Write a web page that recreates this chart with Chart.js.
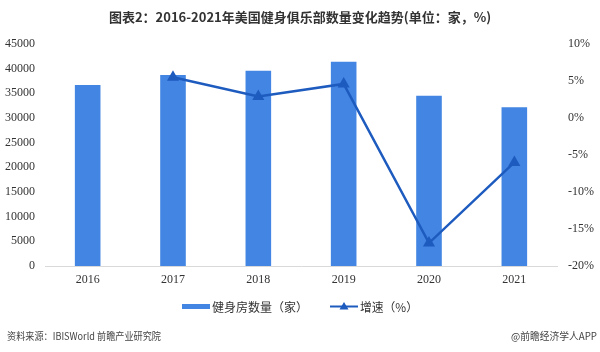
<!DOCTYPE html>
<html><head><meta charset="utf-8">
<script src="https://cdn.jsdelivr.net/npm/chart.js@4"></script>
<style>html,body{margin:0;padding:0;background:#fff}#wrap{width:600px;height:352px;position:relative}</style>
</head><body><div id="wrap"><canvas id="c" width="600" height="352"></canvas></div>
<script>
const title = "图表2：2016-2021年美国健身俱乐部数量变化趋势(单位：家，%)";
const categories = ["2016","2017","2018","2019","2020","2021"];
const gymCounts = [36700, 38700, 39600, 41400, 34500, 32200];
const growthRates = [null, 5.5, 2.9, 4.6, -16.9, -6.0];
const barLabel = "健身房数量（家）";
const lineLabel = "增速（%）";
const sourceText = "资料来源：IBISWorld 前瞻产业研究院";
const brandText = "@前瞻经济学人APP";

const BAR = "#4285e2", LINE = "#1e5bbf";
const serif = "'Liberation Serif','DejaVu Serif',serif";
const sans = "'Noto Sans CJK SC','Noto Sans',sans-serif";

const decor = {
  id: "decor",
  afterDraw(chart) {
    const ctx = chart.ctx;
    ctx.save();
    ctx.fillStyle = "#333";
    ctx.font = "bold 13px " + sans;
    ctx.textAlign = "center"; ctx.textBaseline = "middle";
    ctx.fillText(title, 300, 17, 386);
    // legend
    ctx.font = "12px " + sans;
    ctx.textAlign = "left";
    ctx.fillStyle = BAR;
    ctx.fillRect(182, 304, 28, 5);
    ctx.fillStyle = "#333";
    ctx.fillText(barLabel, 212, 307, 98);
    ctx.strokeStyle = LINE; ctx.lineWidth = 2;
    ctx.beginPath(); ctx.moveTo(330, 306.5); ctx.lineTo(358, 306.5); ctx.stroke();
    ctx.fillStyle = LINE;
    ctx.beginPath(); ctx.moveTo(344, 302); ctx.lineTo(348.5, 309.5); ctx.lineTo(339.5, 309.5); ctx.closePath(); ctx.fill();
    ctx.fillStyle = "#333";
    ctx.fillText(lineLabel, 360, 307, 58);
    // footer
    ctx.font = "10px " + sans;
    ctx.fillStyle = "#444";
    ctx.fillText(sourceText, 7, 336, 154);
    ctx.textAlign = "right";
    ctx.fillText(brandText, 597, 336, 86);
    ctx.restore();
  }
};

new Chart(document.getElementById("c"), {
  data: {
    labels: categories,
    datasets: [
      { type: "line", label: lineLabel, data: growthRates, yAxisID: "y1",
        borderColor: LINE, backgroundColor: LINE, borderWidth: 2.5,
        pointStyle: "triangle", pointRadius: 4.5, pointHoverRadius: 4.5,
        tension: 0, spanGaps: false, order: 0 },
      { type: "bar", label: barLabel, data: gymCounts, yAxisID: "y",
        backgroundColor: BAR, categoryPercentage: 1, barPercentage: 0.3, order: 1 }
    ]
  },
  options: {
    responsive: false, animation: false,
    layout: { padding: { top: 44, bottom: 62, left: 0, right: 0 } },
    plugins: { legend: { display: false }, title: { display: false }, tooltip: { enabled: false } },
    scales: {
      x: {
        grid: { display: false, drawTicks: false },
        border: { display: true, color: "#d9d9d9", width: 1 },
        ticks: { font: { family: serif, size: 12 }, color: "#333", padding: 7 },
        afterFit(s) { s.height = 24; }
      },
      y: {
        position: "left", min: 0, max: 45000,
        grid: { display: false, drawTicks: false },
        border: { display: false },
        ticks: { stepSize: 5000, font: { family: serif, size: 12 }, color: "#333", padding: 10,
          callback: v => String(v) },
        afterFit(s) { s.width = 45; }
      },
      y1: {
        position: "right", min: -20, max: 10,
        grid: { display: false, drawTicks: false },
        border: { display: false },
        ticks: { stepSize: 5, font: { family: serif, size: 12 }, color: "#333", padding: 11,
          callback: v => v + "%" },
        afterFit(s) { s.width = 43; }
      }
    }
  },
  plugins: [decor]
});
</script></body></html>
